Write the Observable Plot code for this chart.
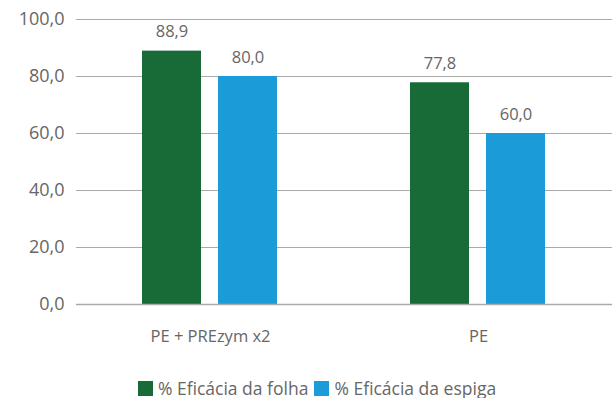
<!DOCTYPE html>
<html><head><meta charset="utf-8">
<script src="https://cdn.jsdelivr.net/npm/d3@7"></script>
<script src="https://cdn.jsdelivr.net/npm/@observablehq/plot@0.6"></script>
<style>
body{margin:0;background:#fff;font-family:"Open Sans",sans-serif;}
#legend{display:flex;justify-content:center;align-items:center;font-size:17.5px;color:#666;margin-top:28px;padding-left:28px;line-height:20px}
#legend span.sw{display:inline-block;width:15px;height:15px;margin-right:5px}
#legend .item{display:flex;align-items:center;margin-right:6px}
</style></head><body>
<div id="chart"></div>
<script>
const groups = ["PE + PREzym x2", "PE"];
const series = ["% Eficácia da folha", "% Eficácia da espiga"];
const folha = [88.9, 77.8];
const espiga = [80.0, 60.0];
const yTicks = [0, 20, 40, 60, 80, 100];
const colors = ["#186a37", "#1b9cd8"];

const data = [];
groups.forEach((g, i) => {
  data.push({group: g, series: series[0], value: folha[i]});
  data.push({group: g, series: series[1], value: espiga[i]});
});
const fmt = v => v.toFixed(1).replace(".", ",");

const plot = Plot.plot({
  width: 612,
  height: 350,
  marginLeft: 75,
  marginRight: 0,
  marginTop: 19,
  marginBottom: 46,
  style: {fontFamily: "Open Sans, sans-serif", color: "#666"},
  fx: {domain: groups, paddingInner: 0, paddingOuter: 0, label: null},
  x: {domain: series, paddingInner: 0.22, paddingOuter: 0.854, axis: null},
  y: {domain: [0, 100], ticks: yTicks, label: null},
  color: {domain: series, range: colors},
  marks: [
    Plot.gridY(yTicks.filter(d => d > 0), {stroke: "#aaa", strokeOpacity: 1, strokeWidth: 1}),
    Plot.barY(data, {fx: "group", x: "series", y: "value", fill: "series"}),
    Plot.ruleY([0], {stroke: "#aaa", strokeWidth: 1.5}),
    Plot.text(data, {fx: "group", x: "series", y: "value", text: d => fmt(d.value), dy: -19, fontSize: 16.5, fill: "#666"}),
    Plot.axisY(yTicks, {tickSize: 0, tickPadding: 12, tickFormat: fmt, fontSize: 18, fill: "#666", label: null}),
    Plot.axisFx({anchor: "bottom", tickSize: 0, tickPadding: 26, fontSize: 16.5, fill: "#666", label: null})
  ]
});
document.getElementById("chart").appendChild(plot);

const leg = document.createElement("div");
leg.id = "legend";
series.forEach((s, i) => {
  const it = document.createElement("div");
  it.className = "item";
  it.innerHTML = `<span class="sw" style="background:${colors[i]}"></span><span>${s}</span>`;
  leg.appendChild(it);
});
document.body.appendChild(leg);
</script>
</body></html>
